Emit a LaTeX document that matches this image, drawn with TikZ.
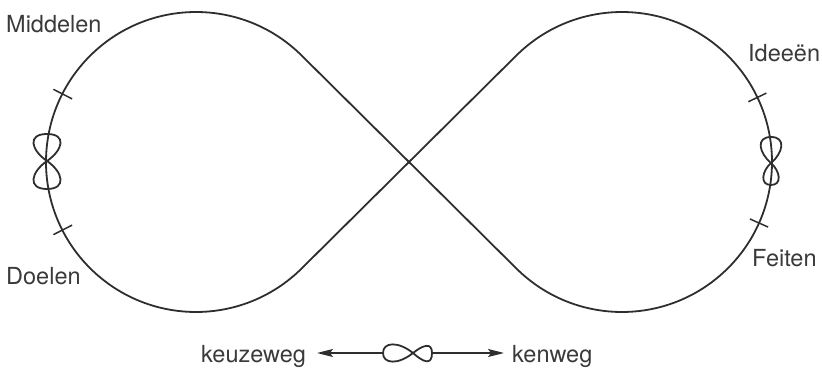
\documentclass[tikz,border=0pt]{standalone}
\usepackage{fontspec}
\setmainfont{TeX Gyre Heros}
\usetikzlibrary{calc,arrows.meta}
\definecolor{ink}{HTML}{2E2E2E}
\definecolor{txt}{HTML}{3A3A3A}
\begin{document}
\begin{tikzpicture}[x=1pt,y=1pt,
  curve/.style={draw=ink,line width=1.8pt,line join=round},
  tickmark/.style={draw=ink,line width=1.5pt},
  eight/.style={draw=ink,line width=1.8pt},
  arr/.style={draw=ink,line width=1.5pt,-{Stealth[length=16pt,width=8pt,inset=3pt]}},
  lbl/.style={inner sep=0pt,text=txt,font=\fontsize{23.5}{28}\selectfont}]
\useasboundingbox (0,0) rectangle (822,367);
% centres and crossing
\coordinate (C) at (409,205);
\coordinate (L) at (196,205);
\coordinate (R) at (622,205);
\coordinate (TL1) at ($(L)+(45.24:150)$);
\coordinate (TR1) at ($(R)+(225.24:150)$);
% main figure of eight
\draw[curve] (C) -- (TL1) arc[start angle=45.24, end angle=314.76, radius=150pt]
  -- (C) -- (TR1) arc[start angle=225.24, end angle=494.76, radius=150pt] -- cycle;
% tick marks
\draw[tickmark] ($(L)+(153:139)$) -- ($(L)+(153:160)$);
\draw[tickmark] ($(L)+(207:139)$) -- ($(L)+(207:160)$);
\draw[tickmark] ($(R)+(25.5:140)$) -- ($(R)+(25.5:160)$);
\draw[tickmark] ($(R)+(-24:140)$) -- ($(R)+(-24:160)$);
% small eight on the left
\begin{scope}[shift={(47,206)}]
\draw[eight] (0,0) .. controls (16,11) and (20,27) .. (0,27)
  .. controls (-20,27) and (-16,11) .. (0,0)
  .. controls (16,-11) and (20,-28) .. (0,-28)
  .. controls (-20,-28) and (-16,-11) .. cycle;
\end{scope}
% small eight on the right
\begin{scope}[shift={(771,204)}]
\draw[eight] (0,0) .. controls (12,10) and (15.5,26) .. (0,26)
  .. controls (-15.5,26) and (-12,10) .. (0,0)
  .. controls (9,-8) and (11.5,-22) .. (0,-22)
  .. controls (-11.5,-22) and (-9,-8) .. cycle;
\end{scope}
% bottom eight with arrows
\coordinate (bl) at (383,14);
\coordinate (br) at (432,14);
\coordinate (al) at (317,14);
\coordinate (ar) at (504,14);
\begin{scope}[shift={(413,14)}]
\draw[eight] (-30,0) .. controls (-30,11) and (-15,12) .. (0,0)
  .. controls (10,-9) and (19,-13) .. (19,0)
  .. controls (19,11) and (10,8) .. (0,0)
  .. controls (-15,-12) and (-30,-11) .. (-30,0);
\end{scope}
\draw[arr] (bl) -- (al);
\draw[arr] (br) -- (ar);
% labels
\node[lbl,anchor=base west] (middelen) at (6,334) {Middelen};
\node[lbl,anchor=base west] (doelen) at (6,82) {Doelen};
\node[lbl,anchor=base west] (ideeen) at (748,305) {Ideeën};
\node[lbl,anchor=base west] (feiten) at (752,100) {Feiten};
\node[lbl,anchor=base west] (keuzeweg) at (201,5) {keuzeweg};
\node[lbl,anchor=base west] (kenweg) at (512,5) {kenweg};
\end{tikzpicture}
\end{document}
